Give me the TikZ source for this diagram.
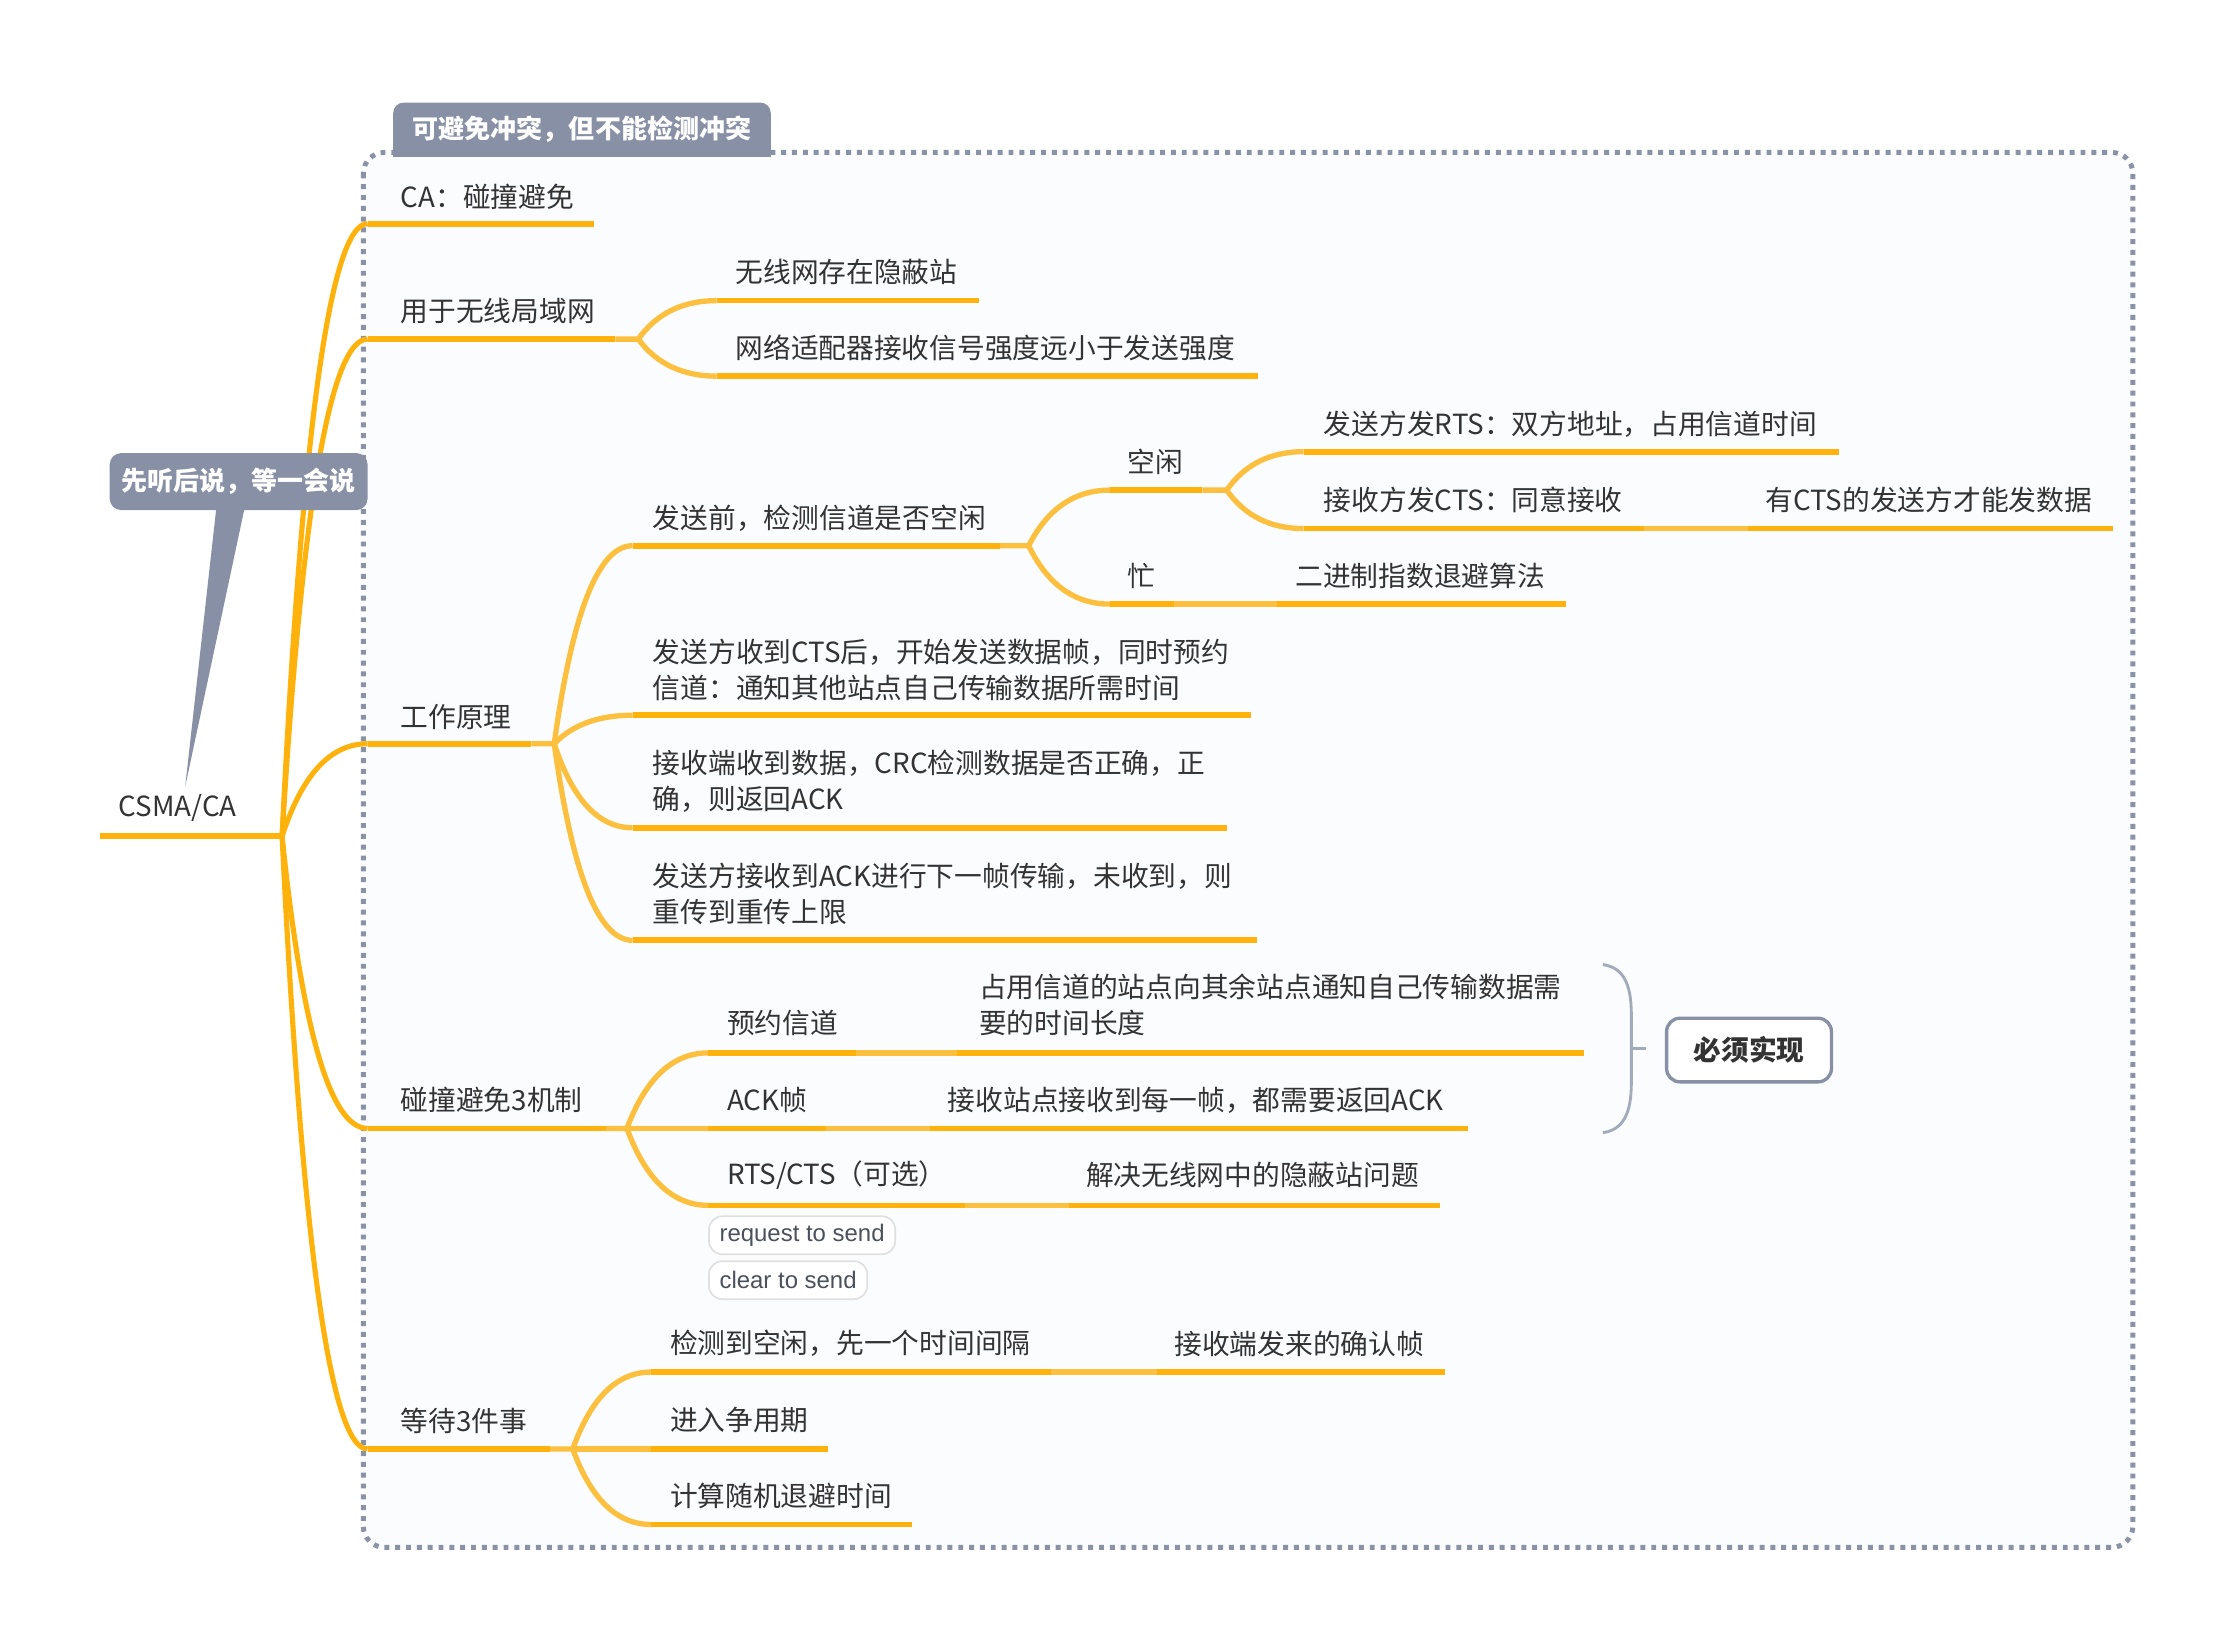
\documentclass[tikz,border=0pt]{standalone}
\usepackage{fontspec}
\setmainfont{Noto Sans CJK SC}
\newfontfamily\pillfont{Liberation Sans}
\usetikzlibrary{calc}
\definecolor{ink}{HTML}{333333}
\definecolor{orD}{HTML}{FFB20C}
\definecolor{orL}{HTML}{FDC03E}
\definecolor{slate}{HTML}{8790A4}
\definecolor{dotc}{HTML}{8A93A6}
\definecolor{bracec}{HTML}{A2ABBA}
\definecolor{pillb}{HTML}{E0E0E0}
\definecolor{pillt}{HTML}{4A505C}
\definecolor{panel}{HTML}{FBFCFE}
\tikzset{
  txt/.style={anchor=west, inner sep=0pt, text=ink, align=left,
    font=\fontsize{14.6}{19.1}\selectfont},
  ul/.style={draw=orD, line width=3pt},
  rootul/.style={draw=orD, line width=3.2pt},
  mainconn/.style={draw=orD, line width=2.7pt},
  conn/.style={draw=orL, line width=2.8pt},
  mmcurve/.style={to path={let \p1=(\tikztostart), \p2=(\tikztotarget) in
    .. controls ({\x1+0.2333*(\x2-\x1)},{\y1+0.6667*(\y2-\y1)})
    and ({\x2-0.4333*(\x2-\x1)},\y2) .. (\tikztotarget)}},
  pill/.style={anchor=west, draw=pillb, fill=white, rounded corners=7pt,
    line width=0.9pt, inner xsep=5.6pt, inner ysep=0pt, minimum height=20pt,
    text=pillt, font=\pillfont\fontsize{12.6}{14}\selectfont},
  callout/.style={fill=slate, rounded corners=6pt, text=white, inner sep=0pt,
    minimum width=135.75pt, minimum height=30pt,
    font=\bfseries\fontsize{13.7}{16}\selectfont},
  lbltext/.style={text=white, inner sep=0pt,
    font=\bfseries\fontsize{13.7}{16}\selectfont},
  mustbox/.style={draw=slate, line width=1.75pt, fill=white, rounded corners=7pt,
    minimum width=86.75pt, minimum height=33.5pt, inner sep=0pt, text=ink,
    font=\bfseries\fontsize{14.6}{17}\selectfont},
  bracestyle/.style={draw=bracec, line width=1.5pt},
}
\begin{document}
\begin{tikzpicture}[x=0.75pt,y=-0.75pt]
\useasboundingbox (0,0) rectangle (1568,1157);
\fill[white] (0,0) rectangle (1568,1157);

% dotted boundary
\draw[dotc, line width=2.6pt, dash pattern=on 2.6pt off 3.1pt, rounded corners=11pt, fill=panel]
  (255,107) rectangle (1497,1086);
\fill[slate, rounded corners=5.5pt] (276,72) rectangle (541,110);
\fill[slate] (276,92) rectangle (541,110);
\node[lbltext] (bound) at (408.5,91) {可避免冲突，但不能检测冲突};

% ---------- coordinates ----------
\coordinate (rs) at (70,587);   \coordinate (re) at (198,587);
\coordinate (As) at (258,157);  \coordinate (Ae) at (417,157);
\coordinate (Bs) at (258,238);  \coordinate (Be) at (432,238);  \coordinate (Bf) at (448,238);
\coordinate (Cs) at (258,522);  \coordinate (Ce) at (373,522);  \coordinate (Cf) at (389,522);
\coordinate (Ds) at (258,792);  \coordinate (De) at (425,792);  \coordinate (Df) at (440,792);
\coordinate (Es) at (258,1017); \coordinate (Ee) at (386,1017); \coordinate (Ef) at (402,1017);

\coordinate (B1s) at (503,211); \coordinate (B1e) at (687,211);
\coordinate (B2s) at (503,264); \coordinate (B2e) at (883,264);

\coordinate (C1s) at (444,383); \coordinate (C1e) at (702,383); \coordinate (C1f) at (722,383);
\coordinate (C2s) at (444,502); \coordinate (C2e) at (878,502);
\coordinate (C3s) at (444,581); \coordinate (C3e) at (861,581);
\coordinate (C4s) at (444,660); \coordinate (C4e) at (882,660);
\coordinate (C1as) at (779,344); \coordinate (C1ae) at (844,344); \coordinate (C1af) at (861,344);
\coordinate (C1bs) at (779,424); \coordinate (C1be) at (824,424);
\coordinate (C1a1s) at (915,317); \coordinate (C1a1e) at (1291,317);
\coordinate (C1a2s) at (915,371); \coordinate (C1a2e) at (1154,371);
\coordinate (C1a2xs) at (1227,371); \coordinate (C1a2xe) at (1483,371);
\coordinate (C1b1s) at (896,424); \coordinate (C1b1e) at (1099,424);

\coordinate (D1s) at (497,739); \coordinate (D1e) at (601,739);
\coordinate (D1xs) at (672,739); \coordinate (D1xe) at (1112,739);
\coordinate (D2s) at (497,792); \coordinate (D2e) at (580,792);
\coordinate (D2xs) at (653,792); \coordinate (D2xe) at (1030,792);
\coordinate (D3s) at (497,846); \coordinate (D3e) at (677,846);
\coordinate (D3xs) at (750,846); \coordinate (D3xe) at (1011,846);

\coordinate (E1s) at (457,963); \coordinate (E1e) at (738,963);
\coordinate (E1xs) at (812,963); \coordinate (E1xe) at (1014,963);
\coordinate (E2s) at (457,1017); \coordinate (E2e) at (581,1017);
\coordinate (E3s) at (457,1070); \coordinate (E3e) at (640,1070);

% ---------- connectors ----------
\foreach \t in {As,Bs,Cs,Ds,Es} \draw[mainconn] (re) to[mmcurve] (\t);

\draw[conn] (Be) -- (Bf) to[mmcurve] (B1s);
\draw[conn] (Bf) to[mmcurve] (B2s);
\draw[conn] (Ce) -- (Cf) to[mmcurve] (C1s);
\foreach \t in {C2s,C3s,C4s} \draw[conn] (Cf) to[mmcurve] (\t);
\draw[conn] (C1e) -- (C1f) to[mmcurve] (C1as);
\draw[conn] (C1f) to[mmcurve] (C1bs);
\draw[conn] (C1ae) -- (C1af) to[mmcurve] (C1a1s);
\draw[conn] (C1af) to[mmcurve] (C1a2s);
\draw[conn] (C1a2e) -- (C1a2xs);
\draw[conn] (C1be) -- (C1b1s);
\draw[conn] (De) -- (Df) to[mmcurve] (D1s);
\draw[conn] (Df) to[mmcurve] (D2s);
\draw[conn] (Df) to[mmcurve] (D3s);
\draw[conn] (D1e) -- (D1xs);
\draw[conn] (D2e) -- (D2xs);
\draw[conn] (D3e) -- (D3xs);
\draw[conn] (Ee) -- (Ef) to[mmcurve] (E1s);
\draw[conn] (Ef) to[mmcurve] (E2s);
\draw[conn] (Ef) to[mmcurve] (E3s);
\draw[conn] (E1e) -- (E1xs);

% ---------- underlines ----------
\draw[rootul] (rs) -- (re);
\foreach \a/\b in {As/Ae,Bs/Be,Cs/Ce,Ds/De,Es/Ee,B1s/B1e,B2s/B2e,C1s/C1e,C2s/C2e,C3s/C3e,C4s/C4e,
  C1as/C1ae,C1bs/C1be,C1a1s/C1a1e,C1a2s/C1a2e,C1a2xs/C1a2xe,C1b1s/C1b1e,
  D1s/D1e,D1xs/D1xe,D2s/D2e,D2xs/D2xe,D3s/D3e,D3xs/D3xe,E1s/E1e,E1xs/E1xe,E2s/E2e,E3s/E3e}
  \draw[ul] (\a) -- (\b);

% ---------- texts ----------
\node[txt] (root) at (83,567) {CSMA/CA};
\node[txt] (A) at (281,138) {CA：碰撞避免};
\node[txt] (B) at (281,218) {用于无线局域网};
\node[txt] (C) at (281,503) {工作原理};
\node[txt] (D) at (281,772) {碰撞避免3机制};
\node[txt] (E) at (281,997) {等待3件事};
\node[txt] (B1) at (516,191) {无线网存在隐蔽站};
\node[txt] (B2) at (516,244) {网络适配器接收信号强度远小于发送强度};
\node[txt] (C1) at (458,364) {发送前，检测信道是否空闲};
\node[txt] (C2) at (458,470) {发送方收到CTS后，开始发送数据帧，同时预约\\信道：通知其他站点自己传输数据所需时间};
\node[txt] (C3) at (458,548.5) {接收端收到数据，CRC检测数据是否正确，正\\确，则返回ACK};
\node[txt] (C4) at (458,627.5) {发送方接收到ACK进行下一帧传输，未收到，则\\重传到重传上限};
\node[txt] (C1a) at (791,324) {空闲};
\node[txt] (C1b) at (791,404) {忙};
\node[txt] (C1a1) at (929,298) {发送方发RTS：双方地址，占用信道时间};
\node[txt] (C1a2) at (929,351) {接收方发CTS：同意接收};
\node[txt] (C1a2x) at (1239,351) {有CTS的发送方才能发数据};
\node[txt] (C1b1) at (909,404) {二进制指数退避算法};
\node[txt] (D1) at (510,718) {预约信道};
\node[txt] (D1x) at (687,705.5) {占用信道的站点向其余站点通知自己传输数据需\\要的时间长度};
\node[txt] (D2) at (510,772) {ACK帧};
\node[txt] (D2x) at (665,772) {接收站点接收到每一帧，都需要返回ACK};
\node[txt] (D3) at (510,825) {RTS/CTS（可选）};
\node[txt] (D3x) at (762,825) {解决无线网中的隐蔽站问题};
\node[txt] (E1) at (470,943) {检测到空闲，先一个时间间隔};
\node[txt] (E1x) at (824,943) {接收端发来的确认帧};
\node[txt] (E2) at (470,997) {进入争用期};
\node[txt] (E3) at (470,1050) {计算随机退避时间};

\node[pill] (rts) at (497,867) {request to send};
\node[pill] (cts) at (497,898.5) {clear to send};

% ---------- callout ----------
\coordinate (ptip) at (130,552);
\fill[slate] (152,355) -- (ptip) -- (172,355) -- cycle;
\node[callout] (note) at (167.5,338) {先听后说，等一会说};

% ---------- summary brace ----------
\coordinate (bt) at (1125,677);
\coordinate (bb) at (1125,795);
\coordinate (bm) at (1145,736);
\coordinate (bk) at (1155,736);
\draw[bracestyle] (bt) .. controls (1139,679) and (1145,690) .. (1145,712)
  -- (1145,760) .. controls (1145,782) and (1139,793) .. (bb);
\draw[bracestyle] (bm) -- (bk);
\node[mustbox] (must) at (1227.6,737) {必须实现};
\end{tikzpicture}
\end{document}
